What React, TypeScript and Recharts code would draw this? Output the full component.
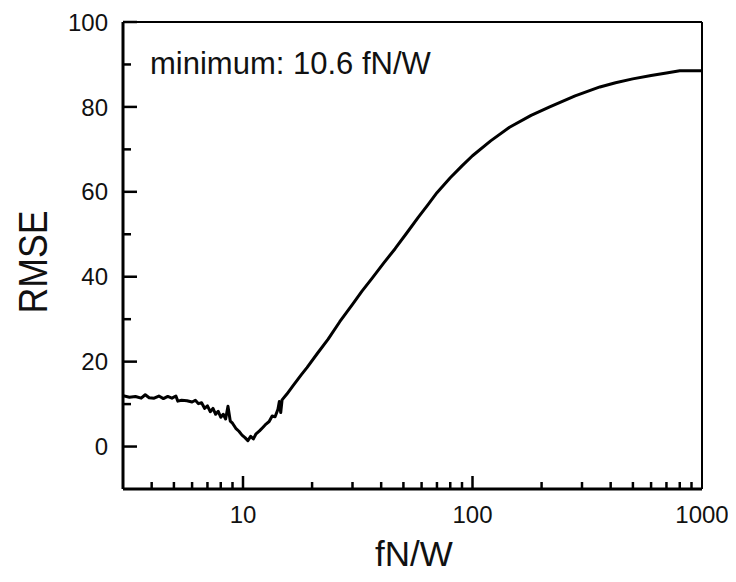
import React from 'react';
import { LineChart, Line, XAxis, YAxis, ReferenceLine, Label } from 'recharts';

// fN/W (log axis) and RMSE values
const fnw = [
  3.0, 3.2, 3.4, 3.6, 3.75, 3.9, 4.1, 4.3, 4.5, 4.7, 4.9, 5.1, 5.2, 5.4, 5.7, 6.0, 6.2, 6.4, 6.6, 6.8,
  7.0, 7.2, 7.4, 7.6, 7.8, 8.0, 8.2, 8.4, 8.6, 8.8, 9.0, 9.3, 9.6, 9.9, 10.2, 10.5, 10.8, 11.1, 11.4, 11.8,
  12.2, 12.6, 13.0, 13.4, 13.8, 14.2, 14.4, 14.6, 14.8, 15.5, 16.5, 18, 19, 21, 23.5, 26.4, 30, 33, 36.7, 41,
  46, 51.7, 58, 64, 70, 80, 90, 100, 120, 145, 180, 217, 280, 359, 420, 499, 600, 700, 800, 900, 1000,
];
const rmse = [
  12.0, 11.6, 11.8, 11.4, 12.2, 11.5, 11.4, 11.9, 11.3, 11.8, 11.4, 11.9, 10.7, 10.9, 10.8, 10.5, 10.9, 10.1, 10.3, 9.0,
  9.6, 8.2, 9.0, 7.6, 8.3, 6.9, 7.6, 6.5, 9.5, 6.0, 5.5, 4.3, 3.6, 2.7, 2.1, 1.4, 2.4, 1.8, 3.0, 3.7,
  4.5, 5.3, 5.9, 7.2, 7.0, 8.8, 10.6, 8.0, 11.0, 12.3, 14.3, 17.0, 18.6, 21.8, 25.3, 29.4, 33.5, 36.6, 39.8, 43.2,
  46.6, 50.3, 54.0, 57.0, 59.8, 63.3, 66.1, 68.5, 72.0, 75.2, 78.0, 80.0, 82.6, 84.7, 85.7, 86.6, 87.4, 88.0, 88.5, 88.5, 88.5,
];

const xTicks = [4, 5, 6, 7, 8, 9, 10, 20, 30, 40, 50, 60, 70, 80, 90, 100, 200, 300, 400, 500, 600, 700, 800, 900, 1000];
const xLabels = [10, 100, 1000];
const yTicks = [0, 10, 20, 30, 40, 50, 60, 70, 80, 90, 100];
const yLabels = [0, 20, 40, 60, 80, 100];

const data = fnw.map((x, i) => ({ x, y: rmse[i] }));

const FONT = '"Liberation Sans", Arial, Helvetica, sans-serif';

const XTick = (props: any) => {
  const { x, y, payload } = props;
  const major = xLabels.includes(payload.value);
  return (
    <g>
      {payload.value !== 1000 && (
        <line x1={x} x2={x} y1={y} y2={y - (major ? 13 : 7)} stroke="#000" strokeWidth={2.5} />
      )}
      {major && (
        <text x={x} y={y + 34} textAnchor="middle" fontSize={24} fontFamily={FONT} fill="#111">
          {payload.value}
        </text>
      )}
    </g>
  );
};

const YTick = (props: any) => {
  const { x, y, payload } = props;
  const major = yLabels.includes(payload.value);
  return (
    <g>
      <line x1={x} x2={x + (major ? 14 : 8)} y1={y} y2={y} stroke="#000" strokeWidth={2.5} />
      {major && (
        <text x={x - 15} y={y} dy="0.36em" textAnchor="end" fontSize={24} fontFamily={FONT} fill="#111">
          {payload.value}
        </text>
      )}
    </g>
  );
};

const App = () => {
  return (
    <div style={{ position: 'relative', width: 720, height: 566, background: '#fff' }}>
      <LineChart width={720} height={566} data={data} margin={{ top: 14, right: 26, bottom: 0, left: 0 }}>
        <XAxis
          dataKey="x"
          type="number"
          scale="log"
          domain={[3, 1000]}
          allowDataOverflow
          ticks={xTicks}
          interval={0}
          tick={<XTick />}
          tickLine={false}
          tickSize={0}
          tickMargin={0}
          height={85}
          axisLine={{ stroke: '#000', strokeWidth: 3 }}
        >
          <Label
            content={() => (
              <text x={406} y={558} textAnchor="middle" fontSize={35} fontFamily={FONT} fill="#111">
                fN/W
              </text>
            )}
          />
        </XAxis>
        <YAxis
          type="number"
          domain={[-10, 100]}
          allowDataOverflow
          ticks={yTicks}
          interval={0}
          tick={<YTick />}
          tickLine={false}
          tickSize={0}
          tickMargin={0}
          width={115}
          axisLine={{ stroke: '#000', strokeWidth: 3 }}
        >
          <Label
            content={() => (
              <text
                x={39}
                y={254}
                transform="rotate(-90, 39, 254)"
                textAnchor="middle"
                fontSize={40}
                textLength={103}
                lengthAdjust="spacingAndGlyphs"
                fontFamily={FONT}
                fill="#111"
              >
                RMSE
              </text>
            )}
          />
        </YAxis>
        <ReferenceLine y={100} stroke="#000" strokeWidth={2} />
        <ReferenceLine x={1000} stroke="#000" strokeWidth={2} />
        <Line
          type="linear"
          dataKey="y"
          stroke="#000"
          strokeWidth={3}
          strokeLinejoin="round"
          dot={false}
          isAnimationActive={false}
        />
      </LineChart>
      <div
        style={{
          position: 'absolute',
          left: 142,
          top: 40,
          fontSize: 31,
          lineHeight: 1,
          fontFamily: FONT,
          color: '#111',
          whiteSpace: 'nowrap',
        }}
      >
        minimum: 10.6 fN/W
      </div>
    </div>
  );
};

export default App;
